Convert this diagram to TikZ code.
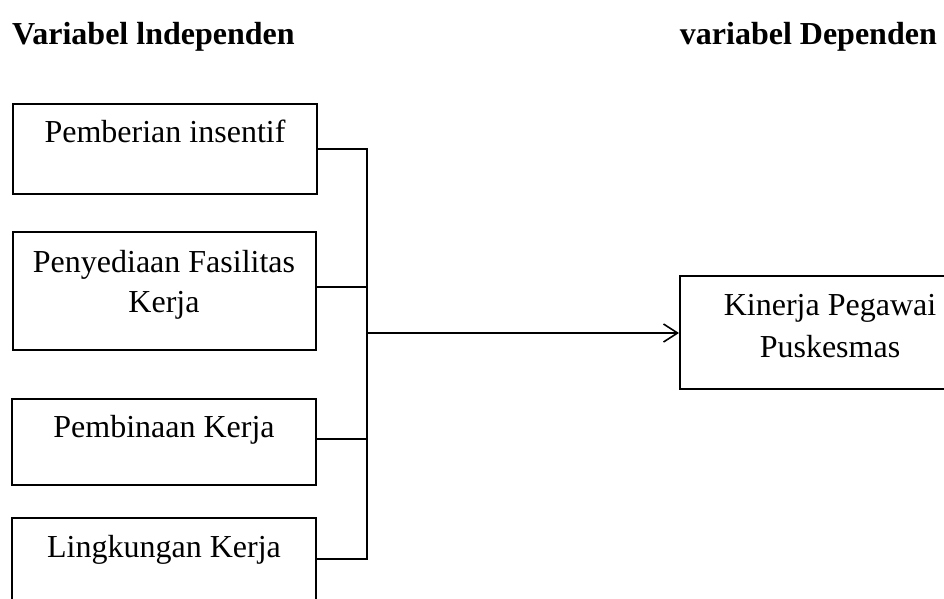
\documentclass[tikz,border=0pt]{standalone}
\usepackage{fontspec}
\setmainfont{Liberation Serif}
\usetikzlibrary{arrows.meta}
\tikzset{
  box/.style={draw=black, line width=1.6pt, rectangle, inner sep=0pt, anchor=north west},
  lbl/.style={anchor=base, inner sep=0pt, font=\fontsize{32}{40}\selectfont},
  ttl/.style={inner sep=0pt, font=\fontsize{32}{40}\selectfont\bfseries},
  conn/.style={draw=black, line width=1.8pt},
}
\begin{document}
\begin{tikzpicture}[x=1pt,y=-1pt]
\useasboundingbox (0,0) rectangle (944,598);
\clip (0,0) rectangle (944,598);
\fill[white] (0,0) rectangle (944,598);
% titles
\node[ttl, anchor=base west] (t1) at (12,44) {Variabel lndependen};
\node[ttl, anchor=base east] (t2) at (937,44) {variabel Dependen};
% boxes
\node[box, minimum width=304pt, minimum height=90pt] (b1) at (12,103) {};
\node[box, minimum width=303pt, minimum height=118pt] (b2) at (12,231) {};
\node[box, minimum width=304pt, minimum height=86pt] (b3) at (11,398) {};
\node[box, minimum width=304pt, minimum height=88pt] (b4) at (11,517) {};
\node[box, minimum width=302pt, minimum height=113pt] (k) at (679,275) {};
% labels
\node[lbl] (l1) at (165,142) {Pemberian insentif};
\node[lbl] (l2a) at (164,272) {Penyediaan Fasilitas};
\node[lbl] (l2b) at (164,312) {Kerja};
\node[lbl] (l3) at (164,437) {Pembinaan Kerja};
\node[lbl] (l4) at (164,557) {Lingkungan Kerja};
\node[lbl] (l5a) at (830,315) {Kinerja Pegawai};
\node[lbl] (l5b) at (830,357) {Puskesmas};
% connectors
\coordinate (j) at (367,333);
\coordinate (p1) at (316,149);
\coordinate (p2) at (315,287);
\coordinate (p3) at (315,439);
\coordinate (p4) at (315,559);
\draw[conn] (p1) -| (j);
\draw[conn] (p2) -| (j);
\draw[conn] (p3) -| (j);
\draw[conn] (p4) -| (j);
\draw[conn, -{Straight Barb[length=14pt,width=18pt,line width=1.6pt]}] (j) -- (j -| k.west);
\end{tikzpicture}
\end{document}
